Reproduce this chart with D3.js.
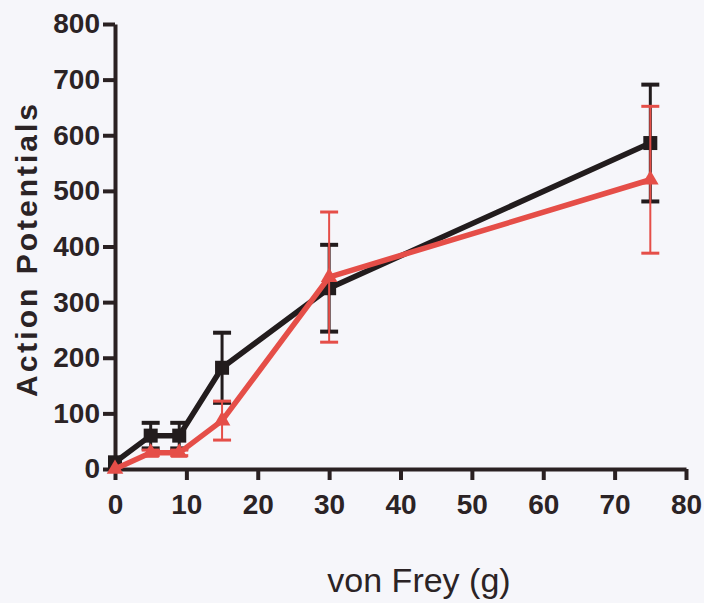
<!DOCTYPE html>
<html>
<head>
<meta charset="utf-8">
<script src="https://cdn.jsdelivr.net/npm/d3@7"></script>
<style>
  body { margin: 0; background: #f6f6fa; }
  svg { display: block; }
</style>
</head>
<body>
<div id="canvas"></div>
<script>
// DATA
const forces = [0, 5, 9, 15, 30, 75];
const controlMean = [12, 60, 60, 182, 325, 586];
const controlErr = [0, 23, 23, 63, 78, 105];
const treatedMean = [0, 29, 29, 87, 345, 520];
const treatedErr = [0, 5, 5, 35, 117, 132];
const xTicks = [0, 10, 20, 30, 40, 50, 60, 70, 80];
const yTicks = [0, 100, 200, 300, 400, 500, 600, 700, 800];

// DIMENSIONS
const width = 704;
const height = 603;
const axisColor = "#2a2122";
const blackColor = "#221c1d";
const redColor = "#e54e48";

const canvas = d3.select("#canvas")
    .append("svg")
    .attr("width", width)
    .attr("height", height)
    .style("background", "#f6f6fa");

// SCALES
const xScale = d3.scaleLinear().domain([0, 80]).range([115, 686]);
const yScale = d3.scaleLinear().domain([0, 800]).range([469, 24]);

// AXES
const yAxis = canvas.append("g")
    .attr("transform", `translate(${xScale(0)},0)`)
    .call(d3.axisLeft(yScale).tickValues(yTicks).tickSize(12).tickSizeOuter(0).tickPadding(3));

const xAxis = canvas.append("g")
    .attr("transform", `translate(0,${yScale(0)})`)
    .call(d3.axisBottom(xScale).tickValues(xTicks).tickSize(11).tickSizeOuter(0).tickPadding(14));

[xAxis, yAxis].forEach(ax => {
    ax.select(".domain").attr("stroke", axisColor).attr("stroke-width", 4);
    ax.selectAll(".tick line").attr("stroke", axisColor).attr("stroke-width", 4);
    ax.selectAll(".tick text")
        .attr("fill", "#2b2325")
        .style("font-family", "'Liberation Sans', Arial, sans-serif")
        .style("font-weight", "bold")
        .style("font-size", "28px");
});

// LABELS
canvas.append("text")
    .attr("transform", "translate(37,249) rotate(-90)")
    .attr("text-anchor", "middle")
    .style("font-family", "'Liberation Sans', Arial, sans-serif")
    .style("font-weight", "bold")
    .style("font-size", "30px")
    .style("letter-spacing", "3px")
    .attr("fill", "#2b2325")
    .text("Action Potentials");

canvas.append("text")
    .attr("x", 419)
    .attr("y", 592)
    .attr("text-anchor", "middle")
    .style("font-family", "'Liberation Sans', Arial, sans-serif")
    .style("font-size", "34px")
    .attr("fill", "#2b2325")
    .text("von Frey (g)");

// SERIES
const control = forces.map((f, i) => ({ x: f, y: controlMean[i], e: controlErr[i] }));
const treated = forces.map((f, i) => ({ x: f, y: treatedMean[i], e: treatedErr[i] }));

const makeLine = d3.line()
    .x(d => xScale(d.x))
    .y(d => yScale(d.y));

function errorBars(data, color, lineW, capW, capHalf) {
    const g = canvas.append("g");
    const withErr = data.filter(d => d.e > 0);
    g.selectAll("line.v")
        .data(withErr)
        .enter().append("line")
        .attr("x1", d => xScale(d.x)).attr("x2", d => xScale(d.x))
        .attr("y1", d => yScale(d.y + d.e)).attr("y2", d => yScale(d.y - d.e))
        .attr("stroke", color).attr("stroke-width", lineW);
    [1, -1].forEach(sign => {
        g.append("g").selectAll("line")
            .data(withErr)
            .enter().append("line")
            .attr("x1", d => xScale(d.x) - capHalf).attr("x2", d => xScale(d.x) + capHalf)
            .attr("y1", d => yScale(d.y + sign * d.e))
            .attr("y2", d => yScale(d.y + sign * d.e))
            .attr("stroke", color).attr("stroke-width", capW);
    });
}

// black series
errorBars(control, blackColor, 3, 4, 9);
canvas.append("path")
    .attr("d", makeLine(control))
    .attr("fill", "none")
    .attr("stroke", blackColor)
    .attr("stroke-width", 5.5);
canvas.selectAll("rect.sq")
    .data(control)
    .enter().append("rect")
    .attr("x", d => xScale(d.x) - 7)
    .attr("y", d => yScale(d.y) - 7)
    .attr("width", 14)
    .attr("height", 14)
    .attr("fill", blackColor);

// red series
errorBars(treated, redColor, 2, 3, 9);
canvas.append("path")
    .attr("d", makeLine(treated))
    .attr("fill", "none")
    .attr("stroke", redColor)
    .attr("stroke-width", 5.5);
canvas.selectAll("path.tri")
    .data(treated)
    .enter().append("path")
    .attr("transform", d => `translate(${xScale(d.x)},${yScale(d.y)})`)
    .attr("d", d3.symbol().type(d3.symbolTriangle).size(120))
    .attr("fill", redColor);
</script>
</body>
</html>
